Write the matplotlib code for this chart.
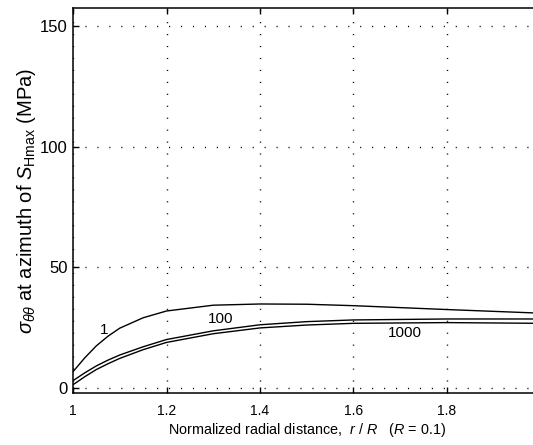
import matplotlib
matplotlib.use("Agg")
import matplotlib.pyplot as plt

plt.rcParams['font.family'] = ['Liberation Sans', 'DejaVu Sans']
plt.rcParams['mathtext.fontset'] = 'custom'
plt.rcParams['mathtext.rm'] = 'Liberation Sans'
plt.rcParams['mathtext.it'] = 'Liberation Sans:italic'
plt.rcParams['mathtext.bf'] = 'Liberation Sans:bold'

# normalized radial distance r/R
r_norm = [1.0, 1.025, 1.05, 1.075, 1.1, 1.15, 1.2, 1.3, 1.4, 1.5, 1.6, 1.8, 2.0]

# hoop stress at azimuth of SHmax (MPa) for three cases
sig_1 = [6.9, 12.6, 17.6, 21.6, 24.9, 29.2, 32.0, 34.4, 34.9, 34.8, 34.2, 32.6, 31.1]
sig_100 = [3.2, 6.4, 9.3, 11.7, 13.8, 17.2, 20.2, 23.8, 26.3, 27.6, 28.3, 28.7, 28.7]
sig_1000 = [1.5, 4.8, 7.8, 10.2, 12.4, 16.0, 19.0, 22.6, 25.0, 26.2, 26.9, 27.2, 26.9]

curve_labels = ['1', '100', '1000']
label_pos = [(1.066, 24.0), (1.315, 28.7), (1.71, 22.8)]

xticks = [1, 1.2, 1.4, 1.6, 1.8]
xtick_labels = ['1', '1.2', '1.4', '1.6', '1.8']
yticks = [0, 50, 100, 150]

fig = plt.figure(figsize=(5.33, 4.45), dpi=100)
ax = fig.add_axes([0.137, 0.1175, 0.877, 0.8638])

for s in [sig_1, sig_100, sig_1000]:
    ax.plot(r_norm, s, color='black', lw=1.0)

for txt, (x, y) in zip(curve_labels, label_pos):
    ax.text(x, y, txt, fontsize=11, ha='center', va='center')

ax.set_xlim(1, 2)
ax.set_ylim(-1.8, 157.2)
ax.set_xticks(xticks)
ax.set_xticklabels(xtick_labels)
ax.set_yticks(yticks)

ax.grid(True, color='black', linestyle=(0, (0.8, 7.8)), linewidth=1.0)
ax.tick_params(direction='in', length=4, width=1, top=True)
ax.tick_params(axis='x', pad=8, labelsize=10)
ax.tick_params(axis='y', pad=4, labelsize=12)
ax.spines['right'].set_visible(False)
for sp in ['left', 'bottom', 'top']:
    ax.spines[sp].set_linewidth(1.1)

ax.set_xlabel(r'Normalized radial distance,  $r$ / $R$   ($R$ = 0.1)', fontsize=10.4, labelpad=2)
ax.set_ylabel(r'$\sigma_{\theta\theta}$ at azimuth of $S_{\mathrm{Hmax}}$ (MPa)', fontsize=14.5, labelpad=1)

plt.savefig("out.png", dpi=100)
